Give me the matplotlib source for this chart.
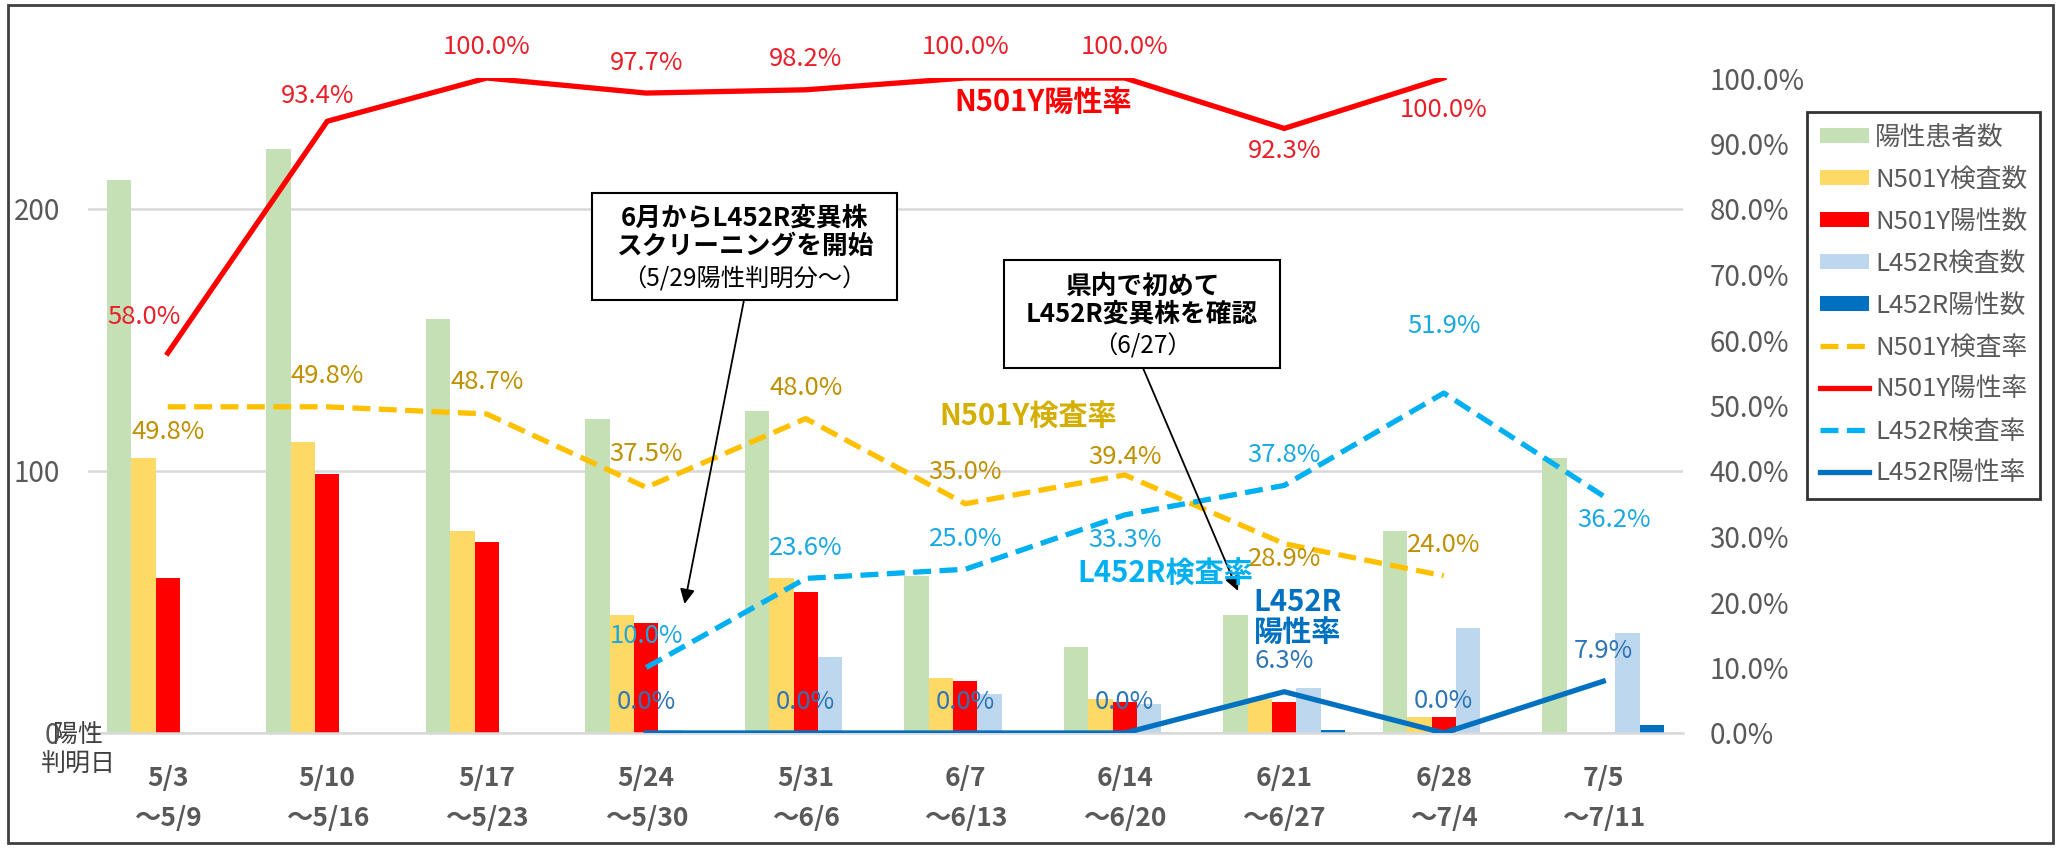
import numpy as np
import matplotlib
matplotlib.use("Agg")
import matplotlib.pyplot as plt
from matplotlib.patches import Patch, Rectangle
from matplotlib.lines import Line2D

plt.rcParams['font.family'] = ['Noto Sans CJK JP', 'DejaVu Sans']

# data
weeks = ['5/3\n～5/9', '5/10\n～5/16', '5/17\n～5/23', '5/24\n～5/30', '5/31\n～6/6',
         '6/7\n～6/13', '6/14\n～6/20', '6/21\n～6/27', '6/28\n～7/4', '7/5\n～7/11']
positive = [211, 223, 158, 120, 123, 60, 33, 45, 77, 105]
n501y_tested = [105, 111, 77, 45, 59, 21, 13, 13, 6, 0]
n501y_pos = [59, 99, 73, 42, 54, 20, 12, 12, 6, 0]
l452r_tested = [0, 0, 0, 1, 29, 15, 11, 17, 40, 38]
l452r_pos = [0, 0, 0, 0, 0, 0, 0, 1, 0, 3]

nan = np.nan
n501y_test_rate = [49.8, 49.8, 48.7, 37.5, 48.0, 35.0, 39.4, 28.9, 24.0, nan]
n501y_pos_rate = [58.0, 93.4, 100.0, 97.7, 98.2, 100.0, 100.0, 92.3, 100.0, nan]
l452r_test_rate = [nan, nan, nan, 10.0, 23.6, 25.0, 33.3, 37.8, 51.9, 36.2]
l452r_pos_rate = [nan, nan, nan, 0.0, 0.0, 0.0, 0.0, 6.3, 0.0, 7.9]

# label offsets (points) for the data labels
off_n_pos = [(-17, 26), (-7, 18), (0, 22), (0, 22), (0, 22), (0, 22), (0, 22), (0, -16), (0, -23)]
off_n_test = [(0, -18), (0, 22), (0, 23), (0, 24), (0, 22), (0, 23), (0, 13), (0, -11), (0, 22)]
off_l_test = [(0, 23), (0, 22), (0, 22), (0, -18), (0, 22), (0, 48), (8, -17)]
off_l_pos = [(0, 22), (0, 22), (0, 22), (0, 22), (0, 22), (0, 23), (0, 22)]

W, H = 2058, 848
fig = plt.figure(figsize=(W / 100, H / 100), dpi=100)
ax = fig.add_axes([88 / W, (H - 733) / H, 1595 / W, 655 / H])
ax2 = ax.twinx()

x = np.arange(len(weeks))
bw = 0.153
bars = [
    (positive, '#C5E0B4', '陽性患者数'),
    (n501y_tested, '#FFD966', 'N501Y検査数'),
    (n501y_pos, '#FF0000', 'N501Y陽性数'),
    (l452r_tested, '#BDD7EE', 'L452R検査数'),
    (l452r_pos, '#0070C0', 'L452R陽性数'),
]
handles = []
for i, (vals, col, lab) in enumerate(bars):
    ax.bar(x + (i - 2) * bw, vals, bw, color=col, zorder=2)
    handles.append(Patch(facecolor=col, label=lab))

ax.set_xlim(-0.5, len(weeks) - 0.5)
ax.set_ylim(0, 250)
ax.set_yticks([0, 100, 200])
ax.yaxis.grid(True, color='#D9D9D9', lw=1.8, zorder=0)
ax.set_axisbelow(True)
for s in ['top', 'left', 'right']:
    ax.spines[s].set_visible(False)
ax.spines['bottom'].set_color('#D9D9D9')
ax.spines['bottom'].set_linewidth(1.8)
ax.tick_params(axis='y', length=0, pad=20, labelsize=20, labelcolor='#595959')
ax.set_xticks(x)
ax.set_xticklabels(weeks, fontsize=19, fontweight='bold', color='#595959', linespacing=1.6)
ax.tick_params(axis='x', length=0, pad=23)

dash = (0, (3.4, 1.6))
lines = [
    (n501y_test_rate, '#FFC000', dash, 'N501Y検査率', off_n_test, '#BF9000'),
    (n501y_pos_rate, '#FF0000', '-', 'N501Y陽性率', off_n_pos, '#E8202A'),
    (l452r_test_rate, '#00B0F0', dash, 'L452R検査率', off_l_test, '#1AA8E0'),
    (l452r_pos_rate, '#0070C0', '-', 'L452R陽性率', off_l_pos, '#2E75B6'),
]
for vals, col, ls, lab, offs, tcol in lines:
    ax2.plot(x, vals, color=col, ls=ls, lw=3.8, zorder=3)
    handles.append(Line2D([0], [0], color=col, ls=ls, lw=3.8, label=lab))
    k = 0
    for xi, v in zip(x, vals):
        if np.isnan(v):
            continue
        dx, dy = offs[k]
        k += 1
        ax2.annotate(f'{v:.1f}%', (xi, v), xytext=(dx, dy), textcoords='offset points',
                     ha='center', va='center', fontsize=18.5, color=tcol, zorder=4)

ax2.set_ylim(0, 100)
ax2.set_yticks(np.arange(0, 101, 10))
ax2.set_yticklabels([f'{t:.1f}%' for t in np.arange(0, 101, 10)])
ax2.tick_params(axis='y', length=0, pad=19, labelsize=20, labelcolor='#595959')
for s in ax2.spines.values():
    s.set_visible(False)

# series name labels
fig.text(1043 / W, 1 - 102 / H, 'N501Y陽性率', color='#FF0000', fontsize=21,
         fontweight='bold', ha='center', va='center')
fig.text(1028 / W, 1 - 417 / H, 'N501Y検査率', color='#D4AF00', fontsize=21,
         fontweight='bold', ha='center', va='center')
fig.text(1165 / W, 1 - 574 / H, 'L452R検査率', color='#00B0F0', fontsize=21,
         fontweight='bold', ha='center', va='center')
fig.text(1298 / W, 1 - 617 / H, 'L452R\n陽性率', color='#0070C0', fontsize=21,
         fontweight='bold', ha='center', va='center', linespacing=1.0)

# callout boxes
def callout(x0, y0, x1, y1, bold, note, start, tip):
    fig.patches.append(Rectangle((x0 / W, 1 - y1 / H), (x1 - x0) / W, (y1 - y0) / H,
                                 transform=fig.transFigure, facecolor='white',
                                 edgecolor='black', lw=1.5, zorder=5))
    cx = (x0 + x1) / 2
    cy = (y0 + y1) / 2
    fig.text(cx / W, 1 - (cy - 14) / H, bold, fontsize=18.5, fontweight='bold',
             ha='center', va='center', linespacing=1.05, zorder=6)
    fig.text(cx / W, 1 - (cy + 33) / H, note, fontsize=17.5, ha='center', va='center', zorder=6)
    ax2.annotate('', xy=tip, xycoords='data', xytext=(start[0] / W, 1 - start[1] / H),
                 textcoords='figure fraction',
                 arrowprops=dict(arrowstyle='-|>', color='black', lw=1.3,
                                 mutation_scale=22, shrinkA=0, shrinkB=0))

callout(592, 193, 897, 300, '6月からL452R変異株\nスクリーニングを開始', '（5/29陽性判明分～）',
        (744, 300), (3.24, 19.7))
callout(1004, 260, 1280, 368, '県内で初めて\nL452R変異株を確認', '（6/27）',
        (1143, 368), (6.71, 21.7))

fig.text(78 / W, 1 - 750 / H, '陽性\n判明日', fontsize=18, color='#404040',
         ha='center', va='center', linespacing=1.15)

leg = fig.legend(handles=handles, loc='upper left', bbox_to_anchor=(1807 / W, 1 - 112 / H),
                 fontsize=18.5, frameon=True, fancybox=False, edgecolor='black',
                 handlelength=1.9, handleheight=0.5, labelspacing=0.62,
                 borderpad=0.5, handletextpad=0.25, borderaxespad=0)
leg.get_frame().set_linewidth(2)
for t in leg.get_texts():
    t.set_color('#595959')

# outer frame of the picture
fig.patches.append(Rectangle((8 / W, 5 / H), (2053 - 8) / W, (843 - 5) / H,
                             transform=fig.transFigure, fill=False,
                             edgecolor='#404040', lw=2))

fig.savefig('out.png', dpi=100)
